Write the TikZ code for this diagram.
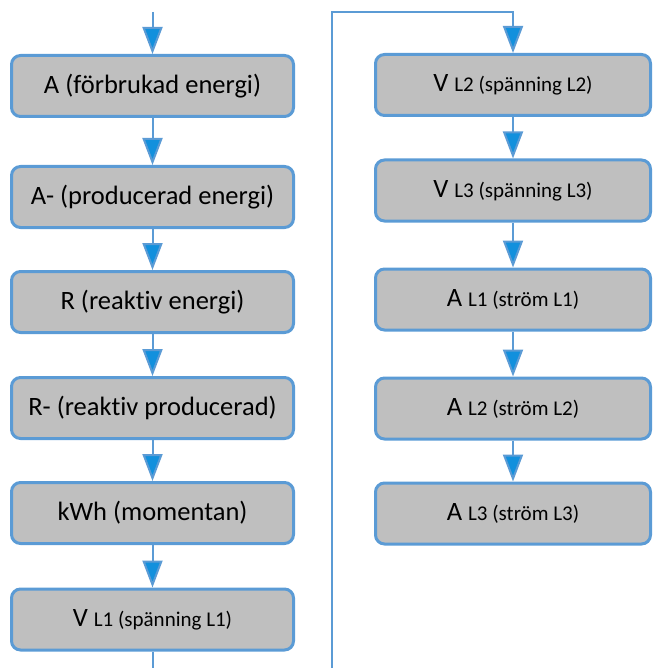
\documentclass[tikz,border=0pt]{standalone}
\usepackage{fontspec}
\setmainfont{Carlito}[Ligatures={NoCommon}]
\usetikzlibrary{arrows.meta}
\definecolor{boxfill}{HTML}{BFBFBF}
\definecolor{boxline}{HTML}{5B9BD5}
\definecolor{arrfill}{HTML}{1290DD}
\newcommand{\bigt}{\fontsize{26.5}{30}\selectfont}
\newcommand{\smallt}{\fontsize{21}{24}\selectfont}
\tikzset{
  stepbox/.style={draw=boxline, line width=3pt, fill=boxfill, rounded corners=9pt,
    minimum height=61pt, inner sep=0pt, font=\bigt, text=black},
  leftbox/.style={stepbox, minimum width=282pt},
  rightbox/.style={stepbox, minimum width=275pt},
  flow/.style={draw=boxline, line width=2pt,
    -{Triangle[width=20pt,length=27pt,fill=arrfill]}},
  plainflow/.style={draw=boxline, line width=2pt}
}
\begin{document}
\begin{tikzpicture}[x=1pt,y=-1pt]
\useasboundingbox (0,0) rectangle (653,668);
\node[leftbox] (l1) at (152.5,86) {A (förbrukad energi)};
\node[leftbox] (l2) at (152.5,197) {A- (producerad energi)};
\node[leftbox] (l3) at (152.5,302) {R (reaktiv energi)};
\node[leftbox] (l4) at (152.5,408) {R- (reaktiv producerad)};
\node[leftbox] (l5) at (152.5,513) {kWh (momentan)};
\node[leftbox] (l6) at (152.5,619.5) {V {\smallt L1 (spänning L1)}};
\node[rightbox] (r1) at (513,85) {V {\smallt L2 (spänning L2)}};
\node[rightbox] (r2) at (513,190.5) {V {\smallt L3 (spänning L3)}};
\node[rightbox] (r3) at (513,299.5) {A {\smallt L1 (ström L1)}};
\node[rightbox] (r4) at (513,408.5) {A {\smallt L2 (ström L2)}};
\node[rightbox] (r5) at (513,513.5) {A {\smallt L3 (ström L3)}};
\coordinate (start) at (152.5,12);
\coordinate (lbot) at (152.5,670);
\coordinate (rbot) at (332,670);
\coordinate (rtop) at (332,12);
\draw[flow] (start) -- (l1.north);
\draw[flow] (l1.south) -- (l2.north);
\draw[flow] (l2.south) -- (l3.north);
\draw[flow] (l3.south) -- (l4.north);
\draw[flow] (l4.south) -- (l5.north);
\draw[flow] (l5.south) -- (l6.north);
\draw[plainflow] (l6.south) -- (lbot);
\draw[flow] (rbot) -- (rtop) -| (r1.north);
\draw[flow] (r1.south) -- (r2.north);
\draw[flow] (r2.south) -- (r3.north);
\draw[flow] (r3.south) -- (r4.north);
\draw[flow] (r4.south) -- (r5.north);
\end{tikzpicture}
\end{document}
